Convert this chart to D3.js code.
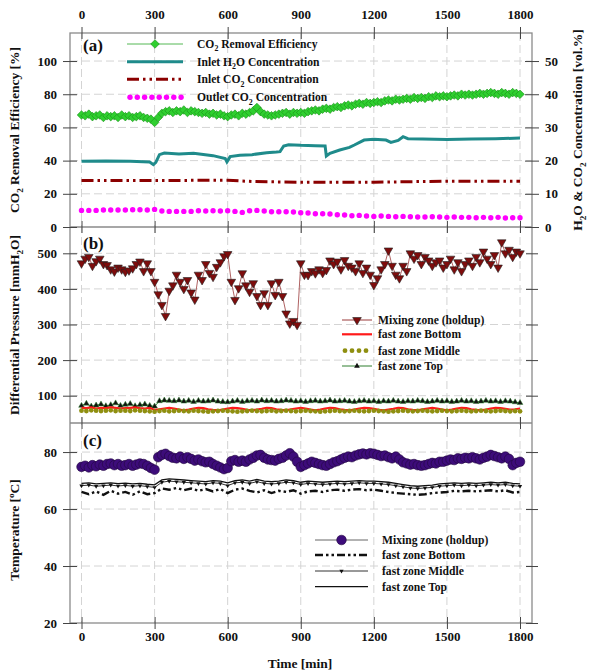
<!DOCTYPE html>
<html>
<head>
<meta charset="utf-8">
<script src="https://cdn.jsdelivr.net/npm/d3@7"></script>
<style>
  body { margin: 0; background: #fff; }
  text { font-family: "Liberation Serif", "Times New Roman", "DejaVu Serif", serif; font-weight: bold; fill: #111; }
</style>
</head>
<body>
<div id="chart"></div>
<script>
// sample times [min]
const t15 = d3.range(0, 1801, 15)
const t20 = d3.range(0, 1801, 20)
const t30 = d3.range(0, 1801, 30)
const xTicks = [0, 300, 600, 900, 1200, 1500, 1800]

// (a) CO2 removal efficiency [%], every 15 min
const removalEff = [
  67.5, 67, 68, 66.5, 67, 67.5, 66, 67, 66.5, 67,
  66, 67.5, 66.5, 67, 66, 66.5, 67, 66, 65.5, 65,
  63, 66, 68.5, 69.5, 70, 69, 70, 69.5, 70.5, 69,
  70, 69.5, 69, 68.5, 69, 68, 68.5, 67.5, 68, 67,
  66.5, 67.5, 68, 67, 68.5, 68, 69, 70, 72, 69.5,
  68, 67.5, 67, 67.5, 68, 68.5, 69, 68, 69, 68.5,
  69, 68.5, 69.5, 70, 70.5, 70, 71, 71.5, 71, 72,
  72.5, 72, 73, 73.5, 73, 74, 74.5, 74, 75, 74.5,
  75, 75.5, 75, 76, 76.5, 76, 77, 76.5, 77, 77.5,
  77, 78, 77.5, 78, 77.5, 78.5, 78, 79, 78.5, 79,
  78.5, 79, 79.5, 79, 80, 79.5, 80, 79.5, 80, 80.5,
  80, 80.5, 81, 80.5, 80, 81, 80.5, 80, 81, 80.5,
  80
]

// (a) inlet H2O [vol.%], read at break points
const h2oTime = [0, 100, 200, 280, 295, 305, 320, 340, 400, 460, 540, 590, 597, 610, 650, 700, 760, 800, 815, 830, 850, 900, 960, 1000, 1005, 1020, 1060, 1100, 1120, 1160, 1200, 1250, 1270, 1300, 1320, 1340, 1400, 1500, 1600, 1700, 1800]
const h2oConc = [19.8, 19.9, 19.8, 19.6, 18.8, 19.5, 21.8, 22.3, 22, 22.2, 21.5, 20.6, 19.6, 21.2, 21.6, 21.8, 22.4, 22.6, 22.7, 24.4, 24.8, 24.6, 24.5, 24.4, 21.4, 22.2, 23.2, 24, 24.7, 26.2, 26.4, 26.2, 25.5, 26.1, 27.2, 26.6, 26.5, 26.4, 26.5, 26.6, 26.8]

// (a) inlet CO2 [vol.%]
const co2InTime = [0, 300, 600, 700, 900, 1200, 1500, 1800]
const co2InConc = [14, 14, 14.1, 13.7, 13.5, 13.5, 13.8, 13.8]

// (a) outlet CO2 [vol.%], every 30 min
const co2Out = [
  5.0, 5.0, 5.0, 5.1, 5.1, 5.1, 5.1, 5.2, 5.2, 5.1,
  5.3, 4.8, 4.7, 4.7, 4.7, 4.7, 4.9, 4.8, 4.9, 4.8,
  4.9, 4.7, 4.4, 4.9, 5.0, 4.8, 4.6, 4.6, 4.6, 4.5,
  4.3, 4.2, 4.0, 4.0, 3.9, 3.7, 3.6, 3.4, 3.5, 3.3,
  3.2, 3.3, 3.2, 3.1, 3.2, 3.1, 3.0, 3.0, 3.1, 3.0,
  2.9, 3.0, 2.9, 2.9, 2.8, 2.9, 2.8, 2.9, 2.7, 2.8,
  2.8
]

// (b) differential pressure [mmH2O]
const dpMixing = [
  472, 485, 490, 465, 478, 485, 470, 467, 455, 449,
  460, 455, 448, 452, 458, 470, 477, 450, 472, 450,
  420, 385, 355, 324, 395, 410, 440, 420, 400, 425,
  390, 370, 440, 425, 470, 445, 434, 462, 475, 492,
  498, 420, 369, 402, 444, 410, 392, 416, 380, 355,
  388, 355, 416, 383, 420, 380, 331, 303, 310, 299,
  472, 440, 439, 450, 444, 455, 445, 453, 480, 470,
  477, 455, 481, 465, 460, 450, 472, 445, 460, 440,
  411, 430, 455, 470, 508, 465, 440, 430, 465, 450,
  500, 485, 495, 470, 490, 480, 465, 475, 480, 460,
  470, 485, 455, 475, 450, 470, 480, 465, 490, 475,
  505, 485, 470, 495, 460, 531, 500, 510, 490, 505,
  500
]
// every 20 min
const dpBottom = [
  66, 65, 67, 64, 66, 65, 67, 66, 64, 65, 66, 67, 65, 64, 66,
  60,
  62, 64, 66, 64, 61, 59, 61, 64, 66, 65,
  62, 60, 59, 61, 64, 66, 65, 63, 60, 59,
  61, 63, 66, 65, 62, 60, 59, 62, 64, 66,
  64, 61, 59, 61, 64, 66, 65, 62, 60, 59,
  61, 64, 66, 65, 63, 60, 59, 61, 63, 66,
  65, 62, 60, 59, 62, 64, 66, 64, 61, 59,
  61, 64, 66, 65, 62, 60, 59, 61, 64, 66,
  65, 63, 61, 62, 64
]
const dpMiddle = [
  58, 57, 59, 58, 57, 58, 59, 57, 58, 58, 57, 59, 58, 57, 56,
  55,
  57, 58, 56, 57, 58, 57, 56, 58, 57, 56,
  55, 56, 57, 58, 57, 56, 55, 56, 57, 58,
  57, 56, 57, 58, 56, 57, 58, 57, 56, 57,
  58, 57, 56, 55, 56, 57, 58, 57, 56, 57,
  58, 57, 56, 57, 58, 57, 56, 55, 56, 57,
  58, 57, 56, 57, 58, 57, 56, 57, 58, 57,
  56, 57, 58, 57, 56, 57, 58, 57, 56, 57,
  58, 57, 56, 57, 56
]
const dpTop = [
  72, 78, 70, 73, 76, 71, 74, 79, 72, 75, 77, 71, 74, 76, 72,
  70,
  85, 87, 86, 85, 87, 84, 86, 83, 86, 84,
  85, 87, 84, 83, 82, 84, 86, 83, 85, 86,
  84, 87, 85, 86, 84, 85, 87, 86, 84, 85,
  83, 85, 86, 84, 85, 87, 84, 85, 86, 84,
  83, 85, 86, 84, 85, 83, 85, 84, 86, 84,
  83, 85, 84, 86, 85, 83, 84, 86, 84, 85,
  83, 84, 86, 84, 85, 83, 84, 86, 84, 85,
  83, 85, 84, 82, 80
]

// (c) temperature [deg C]
const tMixing = [
  74.8, 75.2, 74.6, 75.4, 75.0, 75.6, 75.2, 75.8, 76.0, 75.4,
  75.8, 75.2, 75.4, 75.8, 75.2, 75.6, 76.0, 75.8, 75.2, 74.4,
  73.8, 78.2, 79.0, 79.4, 78.6, 78.0, 77.8, 78.4, 77.6, 78.2,
  77.6, 77.0, 77.4, 76.8, 76.4, 76.6, 75.8, 75.2, 74.6, 74.0,
  74.4, 76.8, 77.2, 76.6, 77.0, 76.6, 77.4, 78.0, 78.8, 79.0,
  78.0, 77.4, 77.2, 77.0, 77.6, 78.0, 78.8, 79.6, 78.4, 76.6,
  74.8, 75.4, 76.0, 76.6, 76.2, 75.8, 75.4, 75.2, 75.8, 76.4,
  76.8, 77.4, 78.0, 78.4, 78.2, 78.8, 79.2, 79.5, 79.2, 79.6,
  79.4, 79.0, 78.6, 78.8, 78.2, 77.8, 78.4, 77.4, 76.4, 76.0,
  75.6, 75.8, 75.4, 75.2, 75.4, 75.8, 76.2, 76.0, 76.6, 76.6,
  77.0, 77.4, 77.2, 77.8, 77.6, 78.0, 77.8, 78.2, 77.8, 77.4,
  78.0, 78.4, 79.0, 78.6, 78.2, 77.8, 78.4, 77.6, 75.4, 76.2,
  76.6
]
// every 30 min
const tTop = [
  69.0, 69.2, 68.8, 69.0, 69.2, 68.9, 69.1, 68.8, 69.0, 68.7,
  68.5, 70.2, 70.6, 70.4, 70.2, 70.0, 69.8, 69.6, 70.0, 69.8,
  69.2, 70.0, 70.2, 69.8, 70.4, 69.8, 69.6, 69.8, 70.2, 70.0,
  69.4, 69.8, 69.6, 69.4, 69.6, 69.8, 69.6, 69.8, 70.0, 69.8,
  69.8, 69.6, 69.4, 69.0, 68.6, 68.2, 68.0, 68.2, 68.4, 68.8,
  69.0, 69.2, 69.0, 69.2, 69.0, 69.2, 69.4, 69.2, 69.4, 69.0,
  68.8
]
const tMiddle = [
  68.2, 68.4, 68.0, 68.2, 68.4, 68.1, 68.3, 68.0, 68.2, 67.9,
  67.6, 69.4, 69.8, 69.6, 69.4, 69.2, 69.0, 68.8, 69.2, 69.0,
  68.2, 69.2, 69.4, 69.0, 69.6, 69.0, 68.8, 69.0, 69.4, 69.2,
  68.6, 69.0, 68.8, 68.6, 68.8, 69.0, 68.8, 69.0, 69.2, 69.0,
  69.0, 68.8, 68.6, 68.2, 67.8, 67.4, 67.2, 67.4, 67.6, 68.0,
  68.2, 68.4, 68.2, 68.4, 68.2, 68.4, 68.6, 68.4, 68.6, 68.2,
  68.0
]
const tBottom = [
  66.0, 65.2, 66.2, 65.0, 66.4, 65.4, 66.0, 65.0, 66.2, 65.2,
  65.6, 67.2, 66.8, 67.4, 66.6, 67.2, 66.4, 67.0, 66.2, 67.0,
  65.6, 66.8, 67.2, 66.4, 65.8, 66.6, 65.6, 66.4, 66.0, 66.6,
  65.4, 66.2, 66.4, 66.0, 66.6, 66.8, 66.4, 66.8, 67.0, 66.6,
  66.8, 66.4, 66.0, 65.6, 65.4, 65.2, 65.0, 65.2, 65.6, 65.8,
  66.0, 66.4, 66.2, 66.4, 66.2, 66.4, 66.6, 66.2, 66.6, 65.8,
  66.0
]

const frame = { left: 70, right: 532, top: 33, bottom: 623 }
const cuts = [33, 227, 423, 623]

const svg = d3
  .select('#chart')
  .append('svg')
  .attr('width', 595)
  .attr('height', 671)

const x = d3.scaleLinear().domain([0, 1800]).range([81.5, 520])
const yA = d3.scaleLinear().domain([0, 116.9]).range([227, 33])
const yA2 = d3.scaleLinear().domain([0, 58.45]).range([227, 33])
const yB = d3.scaleLinear().domain([23.3, 573.9]).range([423, 227])
const yC = d3.scaleLinear().domain([20, 90.2]).range([623, 423])

const panels = [
  { y: yA, ticks: [0, 20, 40, 60, 80, 100], grid: [20, 40, 60, 80, 100] },
  { y: yB, ticks: [100, 200, 300, 400, 500], grid: [100, 200, 300, 400, 500] },
  { y: yC, ticks: [20, 40, 60, 80], grid: [40, 60, 80] }
]

// grid
const grid = svg.append('g')
  .attr('stroke', '#d4d4d4')
  .attr('stroke-width', 1)
  .attr('stroke-dasharray', '8,4')
grid.selectAll('.vg')
  .data(xTicks)
  .enter()
  .append('line')
  .attr('x1', d => x(d)).attr('x2', d => x(d))
  .attr('y1', frame.top).attr('y2', frame.bottom)
panels.forEach(p => {
  grid.selectAll(null)
    .data(p.grid)
    .enter()
    .append('line')
    .attr('x1', frame.left).attr('x2', frame.right)
    .attr('y1', d => p.y(d)).attr('y2', d => p.y(d))
})

// ---------- data (a)
const pa = svg.append('g')

pa.selectAll('.mag')
  .data(co2Out)
  .enter()
  .append('circle')
  .attr('cx', (d, i) => x(t30[i]))
  .attr('cy', d => yA2(d))
  .attr('r', 2.7)
  .attr('fill', '#ff00ff')

pa.append('path')
  .datum(co2InConc)
  .attr('d', d3.line().x((d, i) => x(co2InTime[i])).y(d => yA2(d)))
  .attr('fill', 'none')
  .attr('stroke', '#8b0000')
  .attr('stroke-width', 3)
  .attr('stroke-dasharray', '12,4,2.5,4,2.5,4')

pa.append('path')
  .datum(h2oConc)
  .attr('d', d3.line().x((d, i) => x(h2oTime[i])).y(d => yA2(d)))
  .attr('fill', 'none')
  .attr('stroke', '#1f8b8b')
  .attr('stroke-width', 3)

pa.append('path')
  .datum(removalEff)
  .attr('d', d3.line().x((d, i) => x(t15[i])).y(d => yA(d)))
  .attr('fill', 'none')
  .attr('stroke', '#55b855')
  .attr('stroke-width', 1)

const diamond = 'M0,-4.3L4.3,0L0,4.3L-4.3,0Z'
pa.selectAll('.dia')
  .data(removalEff)
  .enter()
  .append('path')
  .attr('d', diamond)
  .attr('transform', (d, i) => `translate(${x(t15[i])},${yA(d)})`)
  .attr('fill', '#2fcf2f')
  .attr('stroke', '#178f17')
  .attr('stroke-width', 0.6)

// ---------- data (b)
const pb = svg.append('g')
const triUp = d3.symbol().type(d3.symbolTriangle).size(14)()
const triDown = d3.symbol().type(d3.symbolTriangle).size(32)()

pb.append('path')
  .datum(dpTop)
  .attr('d', d3.line().x((d, i) => x(t20[i])).y(d => yB(d)))
  .attr('fill', 'none')
  .attr('stroke', '#2f7f2f')
  .attr('stroke-width', 1)
pb.selectAll('.tt')
  .data(dpTop)
  .enter()
  .append('path')
  .attr('d', triUp)
  .attr('transform', (d, i) => `translate(${x(t20[i])},${yB(d)})`)
  .attr('fill', '#111')
  .attr('stroke', '#2f7f2f')
  .attr('stroke-width', 0.5)

pb.append('path')
  .datum(dpBottom)
  .attr('d', d3.line().x((d, i) => x(t20[i])).y(d => yB(d)))
  .attr('fill', 'none')
  .attr('stroke', '#ff1a1a')
  .attr('stroke-width', 2.2)

pb.selectAll('.mid')
  .data(dpMiddle)
  .enter()
  .append('circle')
  .attr('cx', (d, i) => x(t20[i]))
  .attr('cy', d => yB(d))
  .attr('r', 2.4)
  .attr('fill', '#8f8f10')

pb.append('path')
  .datum(dpMixing)
  .attr('d', d3.line().x((d, i) => x(t15[i])).y(d => yB(d)))
  .attr('fill', 'none')
  .attr('stroke', '#9a3a3a')
  .attr('stroke-width', 0.8)
pb.selectAll('.mix')
  .data(dpMixing)
  .enter()
  .append('path')
  .attr('d', triDown)
  .attr('transform', (d, i) => `translate(${x(t15[i])},${yB(d)}) rotate(180)`)
  .attr('fill', '#7e0c0c')
  .attr('stroke', '#222')
  .attr('stroke-width', 0.6)

// ---------- data (c)
const pc = svg.append('g')
pc.append('path')
  .datum(tTop)
  .attr('d', d3.line().x((d, i) => x(t30[i])).y(d => yC(d)))
  .attr('fill', 'none')
  .attr('stroke', '#111')
  .attr('stroke-width', 1.3)
pc.append('path')
  .datum(tMiddle)
  .attr('d', d3.line().x((d, i) => x(t30[i])).y(d => yC(d)))
  .attr('fill', 'none')
  .attr('stroke', '#333')
  .attr('stroke-width', 1)
pc.selectAll('.tm')
  .data(tMiddle)
  .enter()
  .append('path')
  .attr('d', d3.symbol().type(d3.symbolTriangle).size(8)())
  .attr('transform', (d, i) => `translate(${x(t30[i])},${yC(d)}) rotate(180)`)
  .attr('fill', '#111')
pc.append('path')
  .datum(tBottom)
  .attr('d', d3.line().x((d, i) => x(t30[i])).y(d => yC(d)))
  .attr('fill', 'none')
  .attr('stroke', '#111')
  .attr('stroke-width', 2.4)
  .attr('stroke-dasharray', '8,3,2.5,3,2.5,3')

pc.append('path')
  .datum(tMixing)
  .attr('d', d3.line().x((d, i) => x(t15[i])).y(d => yC(d)))
  .attr('fill', 'none')
  .attr('stroke', '#555')
  .attr('stroke-width', 0.8)
pc.selectAll('.pm')
  .data(tMixing)
  .enter()
  .append('circle')
  .attr('cx', (d, i) => x(t15[i]))
  .attr('cy', d => yC(d))
  .attr('r', 4.8)
  .attr('fill', '#3d0c7a')
  .attr('stroke', '#24083f')
  .attr('stroke-width', 0.6)

// ---------- frame + axes
svg.append('rect')
  .attr('x', frame.left).attr('y', frame.top)
  .attr('width', frame.right - frame.left).attr('height', frame.bottom - frame.top)
  .attr('fill', 'none').attr('stroke', '#8a8a8a').attr('stroke-width', 1.3)
svg.selectAll('.cut')
  .data([227, 423])
  .enter()
  .append('line')
  .attr('x1', frame.left).attr('x2', frame.right)
  .attr('y1', d => d).attr('y2', d => d)
  .attr('stroke', '#8a8a8a').attr('stroke-width', 1.3)

function styleAxis(g) {
  g.attr('font-family', null)
  g.select('.domain').remove()
  g.selectAll('.tick line').attr('stroke', '#444').attr('stroke-width', 1)
  g.selectAll('.tick text')
    .attr('font-size', 13)
    .attr('fill', '#111')
}

// x ticks crossing every boundary
cuts.forEach(cy => {
  svg.append('g')
    .attr('transform', `translate(0,${cy})`)
    .call(d3.axisTop(x).tickValues(xTicks).tickSize(6).tickFormat(cy === 33 ? d3.format('d') : ''))
    .call(g => g.selectAll('.tick text').attr('dy', '-0.35em'))
    .call(styleAxis)
  svg.append('g')
    .attr('transform', `translate(0,${cy})`)
    .call(d3.axisBottom(x).tickValues(xTicks).tickSize(6).tickPadding(3).tickFormat(cy === 623 ? d3.format('d') : ''))
    .call(styleAxis)
})

panels.forEach(p => {
  svg.append('g')
    .attr('transform', `translate(${frame.left},0)`)
    .call(d3.axisLeft(p.y).tickValues(p.ticks).tickSize(7).tickPadding(6))
    .call(styleAxis)
  svg.append('g')
    .attr('transform', `translate(${frame.left},0)`)
    .call(d3.axisRight(p.y).tickValues(p.ticks).tickSize(7).tickFormat(''))
    .call(styleAxis)
  if (p.y !== yA) {
    svg.append('g')
      .attr('transform', `translate(${frame.right},0)`)
      .call(d3.axisRight(p.y).tickValues(p.ticks).tickSize(6).tickFormat(''))
      .call(styleAxis)
    svg.append('g')
      .attr('transform', `translate(${frame.right},0)`)
      .call(d3.axisLeft(p.y).tickValues(p.ticks).tickSize(6).tickFormat(''))
      .call(styleAxis)
  }
})
svg.append('g')
  .attr('transform', `translate(${frame.right},0)`)
  .call(d3.axisRight(yA2).tickValues([0, 10, 20, 30, 40, 50]).tickSize(7).tickPadding(6))
  .call(styleAxis)
svg.append('g')
  .attr('transform', `translate(${frame.right},0)`)
  .call(d3.axisLeft(yA2).tickValues([0, 10, 20, 30, 40, 50]).tickSize(7).tickFormat(''))
  .call(styleAxis)

// ---------- text helpers
function rich(sel, parts, size) {
  let shift = 0
  parts.forEach(([s, k]) => {
    const target = k === 'sub' ? size * 0.28 : k === 'sup' ? -size * 0.38 : 0
    sel.append('tspan')
      .attr('dy', target - shift)
      .attr('font-size', k ? size * 0.68 : size)
      .text(s)
    shift = target
  })
}

function title(xp, yp, rot, parts, size, anchor) {
  const t = svg.append('text')
    .attr('transform', `translate(${xp},${yp}) rotate(${rot})`)
    .attr('text-anchor', anchor || 'middle')
    .attr('font-size', size)
  rich(t, parts, size)
  return t
}

title(19, 130, -90, [['CO'], ['2', 'sub'], [' Removal Efficiency [%]']], 13.5)
title(19, 325, -90, [['Differential Pressure [mmH'], ['2', 'sub'], ['O]']], 13.5)
title(19, 530, -90, [['Temperature ['], ['o', 'sup'], ['C]']], 13.5)
title(582, 130, -90, [['H'], ['2', 'sub'], ['O & CO'], ['2', 'sub'], [' Concentration [vol.%]']], 13.5)
title(300, 668, 0, [['Time [min]']], 13.5)

title(83, 51, 0, [['(a)']], 17, 'start')
title(83, 249, 0, [['(b)']], 17, 'start')
title(83, 446, 0, [['(c)']], 17, 'start')

// ---------- legends
function legend(rows, x0, x1, tx) {
  rows.forEach(r => {
    const g = svg.append('g')
    r.draw(g, x0, x1, r.y)
    title(tx, r.y + 4, 0, r.label, 11.6, 'start')
  })
}

legend([
  { y: 44, label: [['CO'], ['2', 'sub'], [' Removal Efficiency']],
    draw: (g, a, b, y) => {
      g.append('line').attr('x1', a).attr('x2', b).attr('y1', y).attr('y2', y).attr('stroke', '#55b855')
      g.append('path').attr('d', diamond).attr('transform', `translate(${(a + b) / 2},${y})`)
        .attr('fill', '#2fcf2f').attr('stroke', '#178f17').attr('stroke-width', 0.6)
    } },
  { y: 61.7, label: [['Inlet H'], ['2', 'sub'], ['O Concentration']],
    draw: (g, a, b, y) => g.append('line').attr('x1', a).attr('x2', b).attr('y1', y).attr('y2', y)
      .attr('stroke', '#1f8b8b').attr('stroke-width', 3) },
  { y: 79.3, label: [['Inlet CO'], ['2', 'sub'], [' Concentration']],
    draw: (g, a, b, y) => g.append('line').attr('x1', a).attr('x2', b).attr('y1', y).attr('y2', y)
      .attr('stroke', '#8b0000').attr('stroke-width', 3).attr('stroke-dasharray', '12,4,2.5,4,2.5,4') },
  { y: 97.3, label: [['Outlet CO'], ['2', 'sub'], [' Concentration']],
    draw: (g, a, b, y) => g.selectAll(null).data(d3.range(a + 3, b, 7.3)).enter().append('circle')
      .attr('cx', d => d).attr('cy', y).attr('r', 2.7).attr('fill', '#ff00ff') }
], 127, 183, 197)

legend([
  { y: 320, label: [['Mixing zone (holdup)']],
    draw: (g, a, b, y) => {
      g.append('line').attr('x1', a).attr('x2', b).attr('y1', y).attr('y2', y).attr('stroke', '#9a3a3a')
      g.append('path').attr('d', triDown).attr('transform', `translate(${(a + b) / 2},${y}) rotate(180)`)
        .attr('fill', '#7e0c0c').attr('stroke', '#222').attr('stroke-width', 0.6)
    } },
  { y: 334.3, label: [['fast zone Bottom']],
    draw: (g, a, b, y) => g.append('line').attr('x1', a).attr('x2', b).attr('y1', y).attr('y2', y)
      .attr('stroke', '#ff1a1a').attr('stroke-width', 2.2) },
  { y: 350.7, label: [['fast zone Middle']],
    draw: (g, a, b, y) => g.selectAll(null).data(d3.range(a + 3, b, 7)).enter().append('circle')
      .attr('cx', d => d).attr('cy', y).attr('r', 2.4).attr('fill', '#8f8f10') },
  { y: 366, label: [['fast zone Top']],
    draw: (g, a, b, y) => {
      g.append('line').attr('x1', a).attr('x2', b).attr('y1', y).attr('y2', y).attr('stroke', '#2f7f2f')
      g.append('path').attr('d', triUp).attr('transform', `translate(${(a + b) / 2},${y})`).attr('fill', '#111')
    } }
], 342, 372, 378)

legend([
  { y: 540, label: [['Mixing zone (holdup)']],
    draw: (g, a, b, y) => {
      g.append('line').attr('x1', a).attr('x2', b).attr('y1', y).attr('y2', y).attr('stroke', '#666')
      g.append('circle').attr('cx', (a + b) / 2).attr('cy', y).attr('r', 4.8)
        .attr('fill', '#3d0c7a').attr('stroke', '#24083f').attr('stroke-width', 0.6)
    } },
  { y: 555, label: [['fast zone Bottom']],
    draw: (g, a, b, y) => g.append('line').attr('x1', a).attr('x2', b).attr('y1', y).attr('y2', y)
      .attr('stroke', '#111').attr('stroke-width', 2.4).attr('stroke-dasharray', '8,3,2.5,3,2.5,3') },
  { y: 571, label: [['fast zone Middle']],
    draw: (g, a, b, y) => {
      g.append('line').attr('x1', a).attr('x2', b).attr('y1', y).attr('y2', y).attr('stroke', '#333')
      g.append('path').attr('d', d3.symbol().type(d3.symbolTriangle).size(8)())
        .attr('transform', `translate(${(a + b) / 2},${y}) rotate(180)`).attr('fill', '#111')
    } },
  { y: 586.7, label: [['fast zone Top']],
    draw: (g, a, b, y) => g.append('line').attr('x1', a).attr('x2', b).attr('y1', y).attr('y2', y)
      .attr('stroke', '#111').attr('stroke-width', 1.3) }
], 315, 368, 382)
</script>
</body>
</html>
